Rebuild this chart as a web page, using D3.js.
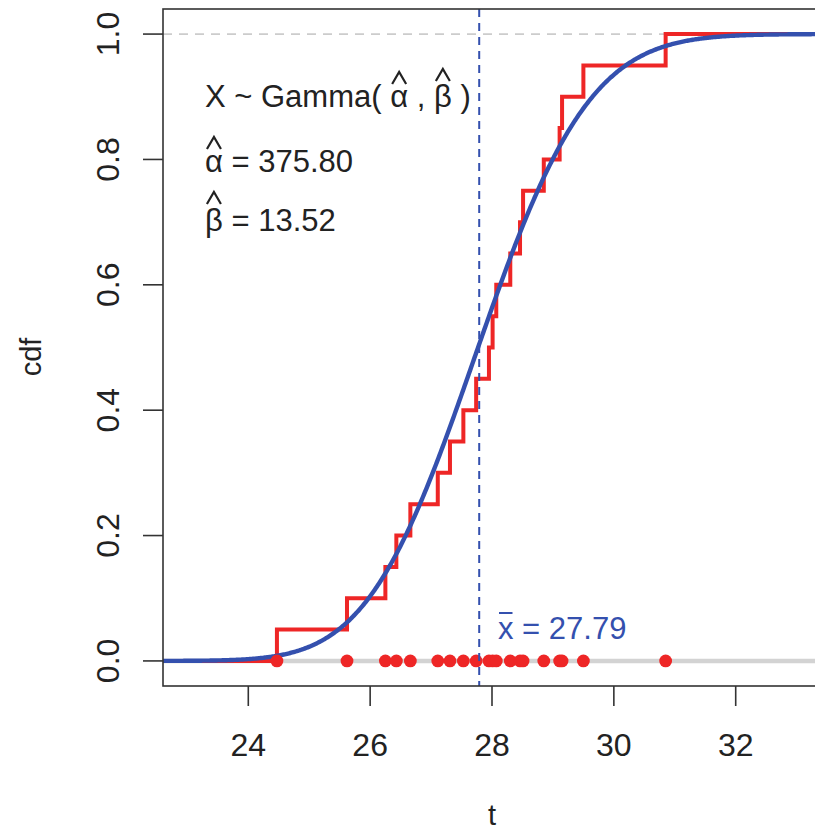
<!DOCTYPE html>
<html>
<head>
<meta charset="utf-8">
<script src="https://cdn.jsdelivr.net/npm/d3@7"></script>
<style>
  html, body { margin: 0; padding: 0; background: #fff; }
  svg { display: block; }
  text { font-family: "Liberation Sans", Arial, Helvetica, sans-serif; fill: #222; }
</style>
</head>
<body>
<svg id="chart" width="815" height="832"></svg>
<script>
// ---- data ----
const observations = [24.47, 25.62, 26.25, 26.43, 26.66, 27.11, 27.31, 27.53, 27.74, 27.95,
                      28.01, 28.07, 28.30, 28.46, 28.51, 28.85, 29.11, 29.15, 29.50, 30.85];
const alphaHat = 375.80;
const betaHat = 13.52;
const xBar = 27.79;
const xTicks = [24, 26, 28, 30, 32];
const yTicks = [0.0, 0.2, 0.4, 0.6, 0.8, 1.0];
const xDomain = [22.6, 33.4];
const yDomain = [-0.04, 1.04];
const xLabel = "t";
const yLabel = "cdf";

// ---- layout ----
const svg = d3.select("#chart");
const L = 163, R = 821, T = 9, B = 686;
const x = d3.scaleLinear().domain(xDomain).range([L, R]);
const y = d3.scaleLinear().domain(yDomain).range([B, T]);

const red = "#EE2626", blue = "#3450AE";

// ---- gamma CDF (regularized lower incomplete gamma) ----
function lgamma(z) {
  const g = 7, c = [0.99999999999980993, 676.5203681218851, -1259.1392167224028,
    771.32342877765313, -176.61502916214059, 12.507343278686905,
    -0.13857109526572012, 9.9843695780195716e-6, 1.5056327351493116e-7];
  z -= 1;
  let a = c[0];
  const t = z + g + 0.5;
  for (let i = 1; i < g + 2; i++) a += c[i] / (z + i);
  return 0.5 * Math.log(2 * Math.PI) + (z + 0.5) * Math.log(t) - t + Math.log(a);
}
function gammaP(a, xv) {
  if (xv <= 0) return 0;
  const lnPre = -xv + a * Math.log(xv) - lgamma(a);
  if (xv < a + 1) {
    let ap = a, sum = 1 / a, del = sum;
    for (let n = 0; n < 20000; n++) {
      ap += 1; del *= xv / ap; sum += del;
      if (Math.abs(del) < Math.abs(sum) * 1e-15) break;
    }
    return sum * Math.exp(lnPre);
  } else {
    const FPMIN = 1e-300;
    let b = xv + 1 - a, c = 1 / FPMIN, d = 1 / b, h = d;
    for (let i = 1; i < 20000; i++) {
      const an = -i * (i - a);
      b += 2;
      d = an * d + b; if (Math.abs(d) < FPMIN) d = FPMIN;
      c = b + an / c; if (Math.abs(c) < FPMIN) c = FPMIN;
      d = 1 / d;
      const del = d * c; h *= del;
      if (Math.abs(del - 1) < 1e-15) break;
    }
    return 1 - Math.exp(lnPre) * h;
  }
}
const gammaCdf = t => gammaP(alphaHat, betaHat * t);

// ---- clip ----
svg.append("defs").append("clipPath").attr("id", "plotclip")
  .append("rect").attr("x", L).attr("y", T).attr("width", R - L).attr("height", B - T);
const plot = svg.append("g").attr("clip-path", "url(#plotclip)");

// reference lines
plot.append("line")
  .attr("x1", L).attr("x2", R).attr("y1", y(0)).attr("y2", y(0))
  .attr("stroke", "#D3D3D3").attr("stroke-width", 4.5);
plot.append("line")
  .attr("x1", L).attr("x2", R).attr("y1", y(1)).attr("y2", y(1))
  .attr("stroke", "#CCCCCC").attr("stroke-width", 1.8).attr("stroke-dasharray", "9,7");

// ECDF
const sorted = observations.slice().sort(d3.ascending);
const n = sorted.length;
const ecdfPts = [[xDomain[0], 0]].concat(sorted.map((v, i) => [v, (i + 1) / n]), [[xDomain[1], 1]]);
plot.append("path")
  .attr("d", d3.line().x(d => x(d[0])).y(d => y(d[1])).curve(d3.curveStepAfter)(ecdfPts))
  .attr("fill", "none").attr("stroke", red).attr("stroke-width", 4)
  .attr("stroke-linejoin", "miter");

// Gamma CDF curve
const grid = d3.range(0, 601).map(i => xDomain[0] + (xDomain[1] - xDomain[0]) * i / 600);
plot.append("path")
  .attr("d", d3.line().x(d => x(d)).y(d => y(gammaCdf(d))).curve(d3.curveLinear)(grid))
  .attr("fill", "none").attr("stroke", blue).attr("stroke-width", 4.4);

// dots
plot.selectAll("circle.obs").data(observations).enter().append("circle")
  .attr("class", "obs")
  .attr("cx", d => x(d)).attr("cy", y(0)).attr("r", 6.4).attr("fill", red);

// mean line
plot.append("line")
  .attr("x1", x(xBar)).attr("x2", x(xBar)).attr("y1", T).attr("y2", B)
  .attr("stroke", blue).attr("stroke-width", 2).attr("stroke-dasharray", "8,6");

// ---- frame & axes ----
svg.append("rect").attr("x", L).attr("y", T).attr("width", R - L).attr("height", B - T)
  .attr("fill", "none").attr("stroke", "#333").attr("stroke-width", 1.6);

const xAxis = svg.append("g");
xTicks.forEach(v => {
  xAxis.append("line").attr("x1", x(v)).attr("x2", x(v)).attr("y1", B).attr("y2", B + 20)
    .attr("stroke", "#333").attr("stroke-width", 1.6);
  xAxis.append("text").attr("x", x(v)).attr("y", 756).attr("text-anchor", "middle")
    .attr("font-size", 32).text(v);
});
const yAxis = svg.append("g");
yTicks.forEach(v => {
  yAxis.append("line").attr("x1", L - 20).attr("x2", L).attr("y1", y(v)).attr("y2", y(v))
    .attr("stroke", "#333").attr("stroke-width", 1.6);
  yAxis.append("text").attr("transform", `translate(119,${y(v)}) rotate(-90)`)
    .attr("text-anchor", "middle").attr("font-size", 32).text(v.toFixed(1));
});

svg.append("text").attr("x", (L + R) / 2).attr("y", 825).attr("text-anchor", "middle")
  .attr("font-size", 29).text(xLabel);
svg.append("text").attr("transform", `translate(41,357) rotate(-90)`)
  .attr("text-anchor", "middle").attr("font-size", 29).text(yLabel);

// ---- annotations ----
const ann = svg.append("g");
function hat(cx, yb, w, h) {
  ann.append("path")
    .attr("d", `M${cx - w / 2},${yb} L${cx},${yb - h} L${cx + w / 2},${yb}`)
    .attr("fill", "none").attr("stroke", "#222").attr("stroke-width", 2.2);
}
function charCenter(textNode, idx) {
  const e = textNode.getExtentOfChar(idx);
  return e.x + e.width / 2;
}
const fs = 31;
const l1 = ann.append("text").attr("x", 205).attr("y", 107).attr("font-size", fs)
  .text("X ~ Gamma( \u03B1 , \u03B2 )");
const s1 = l1.text();
hat(charCenter(l1.node(), s1.indexOf("\u03B1")), 84, 14, 12);
hat(charCenter(l1.node(), s1.indexOf("\u03B2")), 81, 14, 12);

const l2 = ann.append("text").attr("x", 205).attr("y", 172).attr("font-size", fs)
  .text("\u03B1 = " + alphaHat.toFixed(2));
hat(charCenter(l2.node(), 0), 149, 14, 12);

const l3 = ann.append("text").attr("x", 205).attr("y", 231).attr("font-size", fs)
  .text("\u03B2 = " + betaHat.toFixed(2));
hat(charCenter(l3.node(), 0), 204, 14, 12);

// x-bar label
const xb = ann.append("text").attr("x", 498).attr("y", 639).attr("font-size", fs)
  .attr("fill", blue).style("fill", blue).text("x = " + xBar.toFixed(2));
const ex = xb.node().getExtentOfChar(0);
ann.append("line").attr("x1", ex.x + 1).attr("x2", ex.x + ex.width - 1)
  .attr("y1", 613).attr("y2", 613).attr("stroke", blue).attr("stroke-width", 2);
</script>
</body>
</html>
